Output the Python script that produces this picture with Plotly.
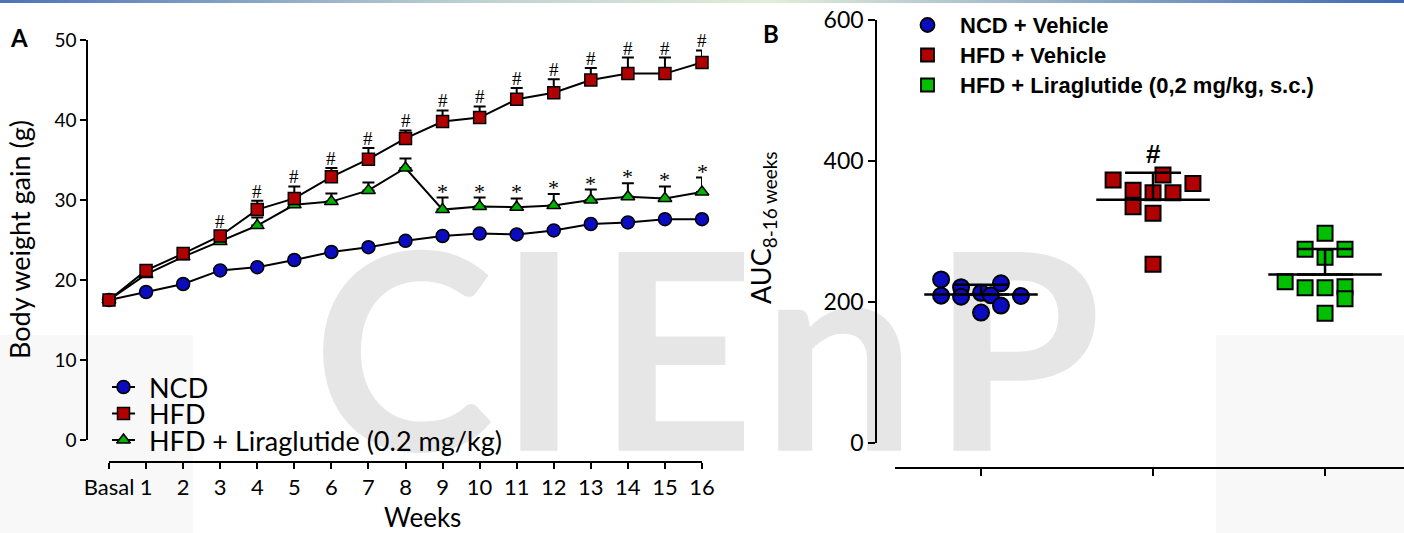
import numpy as np
import plotly.graph_objects as go

W, H = 1404, 533

# ---------------- Panel A data (body weight gain, g; mean and SEM) ----------------
week_labels = ['Basal'] + [str(i) for i in range(1, 17)]
weeks = list(range(17))
ncd_mean = [17.5, 18.5, 19.5, 21.2, 21.6, 22.5, 23.5, 24.1, 24.9, 25.5, 25.8, 25.7, 26.2, 27.0, 27.2, 27.6, 27.6]
ncd_sem = [0.3, 0.3, 0.3, 0.3, 0.3, 0.3, 0.3, 0.3, 0.3, 0.3, 0.3, 0.3, 0.3, 0.3, 0.3, 0.3, 0.3]
hfd_mean = [17.5, 21.2, 23.3, 25.5, 28.8, 30.2, 32.9, 35.1, 37.7, 39.8, 40.3, 42.6, 43.4, 45.0, 45.8, 45.8, 47.2]
hfd_sem = [0.3, 0.4, 0.4, 0.6, 1.1, 1.5, 1.1, 1.4, 1.0, 1.4, 1.4, 1.4, 1.7, 1.5, 2.0, 2.0, 1.5]
lira_mean = [17.5, 20.7, 22.9, 24.8, 26.8, 29.4, 29.8, 31.2, 34.0, 28.8, 29.2, 29.1, 29.3, 30.0, 30.4, 30.2, 31.0]
lira_sem = [0.3, 0.3, 0.4, 0.4, 1.0, 0.5, 1.0, 1.0, 1.2, 1.5, 1.1, 1.1, 1.45, 1.3, 1.7, 1.5, 1.8]
hash_weeks = list(range(3, 17))   # HFD vs NCD
star_weeks = list(range(9, 17))   # Liraglutide vs HFD
legend_a = ['NCD', 'HFD', 'HFD + Liraglutide (0.2 mg/kg)']

# ---------------- Panel B data (AUC 8-16 weeks, individual animals) ----------------
groups_b = ['NCD + Vehicle', 'HFD + Vehicle', 'HFD + Liraglutide (0,2 mg/kg, s.c.)']
ncd_auc = [232, 209, 221, 207.5, 213, 185, 209.5, 226.5, 195, 208.5]
hfd_auc = [373, 358.4, 335, 355, 326, 380, 355, 368, 253.5]
lira_auc = [297.5, 274.7, 274.7, 263.4, 228.8, 220.3, 220.3, 221.7, 204.7, 184]
# swarm column of each point (layout of the dot plot)
ncd_slot = [-2, -2, -1, -1, 0, 0, 0.5, 1, 1, 2]
hfd_slot = [-2, -1, -1, 0, 0, 0.5, 1, 2, 0]
lira_slot = [0, -1, 1, 0, -2, -1, 0, 1, 1, 0]

# ---------------- styles ----------------
BLUE, RED, GREEN, GREEN_B = '#0b0bbf', '#b00000', '#00b400', '#00c000'
FONT = 'Lato'
SERIF = 'Liberation Serif'
ARIAL = 'Liberation Sans'
WM_FONT = 'Liberation Sans Narrow, Lato'
SLOT_W = 0.116


def px(x):
    return x / W


def py(y):
    return 1 - y / H


fig = go.Figure()

# ---- background decoration on a pixel-space overlay (drawn first = lowest) ----
for (x0, x1, y0, y1) in [(0, 193, 335, H), (1216, W, 335, H)]:
    fig.add_trace(go.Scatter(x=[x0, x1, x1, x0, x0], y=[y0, y0, y1, y1, y0], mode='none',
                             fill='toself', fillcolor='#f8f8f8', hoverinfo='skip',
                             showlegend=False, xaxis='x', yaxis='y'))
fig.add_trace(go.Scatter(x=[0, W, W, 0, 0], y=[0, 0, 3, 3, 0], mode='none', fill='toself',
                         fillgradient=dict(type='horizontal',
                                           colorscale=[[0, '#4d72b8'], [0.33, '#bcd0d0'],
                                                       [0.55, '#e2edd9'], [1, '#3d67b2']]),
                         hoverinfo='skip', showlegend=False, xaxis='x', yaxis='y'))
fig.add_trace(go.Scatter(x=[403.5, 539, 675.5, 839, 1016.5], y=[382] * 5, mode='text',
                         text=list('CIEnP'), textposition='middle center',
                         textfont=dict(family=WM_FONT, size=275, color='#e6e6e6', weight='bold'),
                         hoverinfo='skip', showlegend=False, xaxis='x', yaxis='y'))

# ---- manual legend A (line + marker samples) ----
leg_a_rows = [387, 413.5, 440]
leg_a_sym = [('circle', BLUE, 13), ('square', RED, 12), ('triangle-up', GREEN, 12)]
for name, row, (sym, col, sz) in zip(legend_a, leg_a_rows, leg_a_sym):
    fig.add_trace(go.Scatter(x=[112, 135], y=[row, row], mode='lines',
                             line=dict(color='black', width=2), hoverinfo='skip',
                             showlegend=False, xaxis='x', yaxis='y'))
    fig.add_trace(go.Scatter(x=[123.5], y=[row], mode='markers', name=name,
                             marker=dict(symbol=sym, color=col, size=sz,
                                         line=dict(color='black', width=1.5)),
                             hoverinfo='skip', showlegend=False, xaxis='x', yaxis='y'))

# ---- manual legend B ----
leg_b_rows = [25, 55, 85]
leg_b_sym = [('circle', BLUE, 14), ('square', RED, 13), ('square', GREEN_B, 13)]
for name, row, (sym, col, sz) in zip(groups_b, leg_b_rows, leg_b_sym):
    fig.add_trace(go.Scatter(x=[927.5], y=[row], mode='markers', name=name,
                             marker=dict(symbol=sym, color=col, size=sz,
                                         line=dict(color='black', width=1.8)),
                             hoverinfo='skip', showlegend=False, xaxis='x', yaxis='y'))

# ---------------- Panel A traces ----------------
def series_a(mean, sem, sym, col, sz, name):
    return go.Scatter(
        x=weeks, y=mean, name=name, mode='lines+markers', cliponaxis=False,
        line=dict(color='black', width=2),
        marker=dict(symbol=sym, color=col, size=sz, line=dict(color='black', width=1.5)),
        error_y=dict(type='data', symmetric=False, array=sem, arrayminus=[0] * len(sem),
                     color='black', thickness=2, width=6),
        showlegend=False, xaxis='x2', yaxis='y2')


fig.add_trace(series_a(ncd_mean, ncd_sem, 'circle', BLUE, 13, legend_a[0]))
fig.add_trace(series_a(lira_mean, lira_sem, 'triangle-up', GREEN, 12, legend_a[2]))
fig.add_trace(series_a(hfd_mean, hfd_sem, 'square', RED, 12, legend_a[1]))

# ---------------- Panel B traces ----------------
b_sets = [(ncd_auc, ncd_slot, 'circle', BLUE, 16), (hfd_auc, hfd_slot, 'square', RED, 15),
          (lira_auc, lira_slot, 'square', GREEN_B, 15)]
for gi, (vals, slots, sym, col, sz) in enumerate(b_sets):
    fig.add_trace(go.Scatter(x=[gi + s * SLOT_W for s in slots], y=vals, mode='markers',
                             name=groups_b[gi], cliponaxis=False,
                             marker=dict(symbol=sym, color=col, size=sz,
                                         line=dict(color='black', width=2)),
                             showlegend=False, xaxis='x3', yaxis='y3'))
for gi, (vals, slots, sym, col, sz) in enumerate(b_sets):
    m = float(np.mean(vals))
    sd = float(np.std(vals, ddof=1))
    fig.add_trace(go.Scatter(x=[gi - 0.33, gi + 0.33], y=[m, m], mode='lines',
                             line=dict(color='black', width=2.5), hoverinfo='skip',
                             showlegend=False, xaxis='x3', yaxis='y3'))
    fig.add_trace(go.Scatter(x=[gi], y=[m], mode='markers', marker=dict(size=1, opacity=0),
                             error_y=dict(type='data', symmetric=False, array=[sd], arrayminus=[0],
                                          color='black', thickness=2.5, width=28),
                             hoverinfo='skip', showlegend=False, xaxis='x3', yaxis='y3'))

# ---------------- annotations ----------------
ann = []
for w in hash_weeks:
    ann.append(dict(x=w, y=hfd_mean[w] + hfd_sem[w], xref='x2', yref='y2', text='#',
                    showarrow=False, yanchor='bottom', yshift=-3,
                    font=dict(family=SERIF, size=19, color='black')))
for w in star_weeks:
    ann.append(dict(x=w, y=lira_mean[w] + lira_sem[w], xref='x2', yref='y2', text='*',
                    showarrow=False, yanchor='bottom', yshift=-8,
                    font=dict(family=SERIF, size=22, color='black')))
hm = float(np.mean(hfd_auc)) + float(np.std(hfd_auc, ddof=1))
ann.append(dict(x=1, y=hm, xref='x3', yref='y3', text='<b>#</b>', showarrow=False,
                yanchor='bottom', yshift=2, font=dict(family=ARIAL, size=26, color='black')))

# legend texts
for name, row in zip(legend_a, leg_a_rows):
    ann.append(dict(x=147, y=row, xref='x', yref='y', text=name, showarrow=False,
                    xanchor='left', yanchor='middle', font=dict(family=FONT, size=27, color='black')))
for name, row in zip(groups_b, leg_b_rows):
    ann.append(dict(x=958, y=row, xref='x', yref='y', text='<b>' + name + '</b>', showarrow=False,
                    xanchor='left', yanchor='middle', font=dict(family=ARIAL, size=22, color='black')))

# panel letters and axis titles
ann += [
    dict(x=18.5, y=37, xref='x', yref='y', text='<b>A</b>', showarrow=False,
         font=dict(family=FONT, size=24, color='black')),
    dict(x=771, y=33, xref='x', yref='y', text='<b>B</b>', showarrow=False,
         font=dict(family=FONT, size=24, color='black')),
    dict(x=422, y=533, xref='x', yref='y', text='Weeks', showarrow=False, yanchor='bottom',
         borderpad=0, borderwidth=0, font=dict(family=FONT, size=26, color='black')),
    dict(x=19, y=240, xref='x', yref='y', text='Body weight gain (g)', showarrow=False,
         textangle=-90, font=dict(family=FONT, size=27, color='black')),
    dict(x=762, y=228, xref='x', yref='y', text='AUC<sub>8-16 weeks</sub>', showarrow=False,
         textangle=-90, font=dict(family=FONT, size=27, color='black')),
]

axis_common = dict(showline=True, linecolor='black', linewidth=1.5, ticks='outside',
                   tickcolor='black', tickwidth=1.5, showgrid=False, zeroline=False,
                   fixedrange=True, automargin=False)

fig.update_layout(
    width=W, height=H, margin=dict(l=0, r=0, t=0, b=0, pad=0, autoexpand=False),
    paper_bgcolor='white', plot_bgcolor='rgba(0,0,0,0)', showlegend=False,
    xaxis=dict(domain=[0, 1], range=[0, W], visible=False, fixedrange=True, automargin=False),
    yaxis=dict(domain=[0, 1], range=[H, 0], visible=False, fixedrange=True, automargin=False),
    xaxis2=dict(domain=[px(109), px(702)], range=[0, 16], anchor='free', position=py(462),
                tickvals=weeks, ticktext=week_labels, ticklen=6,
                tickfont=dict(family=FONT, size=22, color='black'), **axis_common),
    yaxis2=dict(domain=[py(440), py(40)], range=[0, 50], anchor='free', position=px(87),
                tickvals=[0, 10, 20, 30, 40, 50], ticklen=6,
                tickfont=dict(family=FONT, size=19, color='black'), **axis_common),
    xaxis3=dict(domain=[px(895), 1], range=[-0.5, 2.459], anchor='free', position=py(468),
                tickvals=[0, 1, 2], showticklabels=False, ticklen=7, **axis_common),
    yaxis3=dict(domain=[py(443), py(20)], range=[0, 600], anchor='free', position=px(876),
                tickvals=[0, 200, 400, 600], ticklen=7,
                tickfont=dict(family=FONT, size=23, color='black'), **axis_common),
    annotations=ann,
)

fig.write_html('out.html', config={'displayModeBar': False},
               post_script="document.body.style.margin='0';document.body.style.overflow='hidden';")
